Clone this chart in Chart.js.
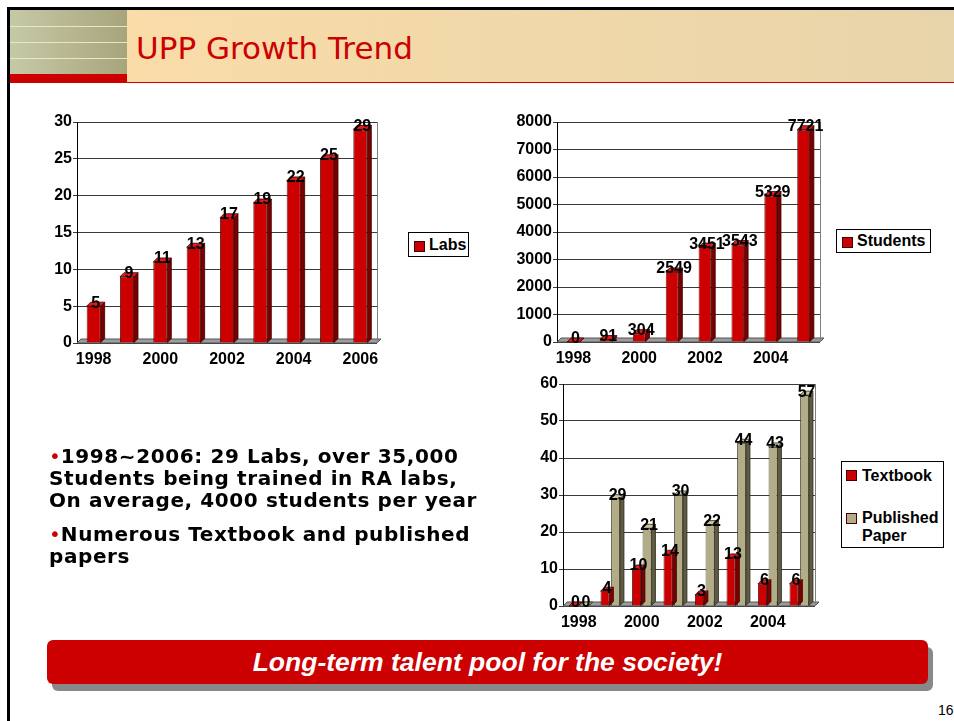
<!DOCTYPE html>
<html>
<head>
<meta charset="utf-8">
<title>UPP Growth Trend</title>
<script src="https://cdn.jsdelivr.net/npm/chart.js@4.4.1/dist/chart.umd.min.js"></script>
<style>
  body { margin: 0; width: 954px; height: 721px; background: #fff; position: relative; overflow: hidden; font-family: "Liberation Sans", Arial, sans-serif; }
  .frame-top { position: absolute; left: 7px; top: 7px; right: 0; height: 3px; background: #000; }
  .frame-left { position: absolute; left: 7px; top: 7px; width: 3px; bottom: 0; background: #000; }
  .band-left { position: absolute; left: 10px; top: 10px; width: 117px; height: 64px; background: linear-gradient(to right, #c6c9a7, #a8a57d); }
  .band-left i { position: absolute; left: 0; right: 0; height: 1px; background: #e9e6c3; }
  .band-red { position: absolute; left: 10px; top: 74px; width: 117px; height: 9px; background: #cc0000; }
  .band-right { position: absolute; left: 127px; top: 10px; right: 0; height: 72px; background: linear-gradient(to right, #f9dca8, #e8d4aa); border-bottom: 1px solid #cc0000; }
  h1 { position: absolute; left: 136px; top: 33px; margin: 0; font: 31px/31px "DejaVu Sans", Verdana, sans-serif; color: #cc0000; white-space: nowrap; }
  .box { position: absolute; }
  .legend { position: absolute; border: 1px solid #000; background: #fff; font: bold 16px/18px "Liberation Sans", Arial, sans-serif; color: #000; box-sizing: border-box; }
  .legend .item { position: absolute; white-space: nowrap; }
  .legend .sw { position: absolute; width: 11px; height: 11px; border: 1px solid #400; box-sizing: border-box; }
  .notes { position: absolute; left: 49px; top: 445px; width: 470px; font: bold 20px/22px "DejaVu Sans", Verdana, sans-serif; letter-spacing: 0.6px; color: #000; white-space: nowrap; }
  .notes p { margin: 0 0 12px 0; }
  .notes b { color: #cc0000; font-weight: normal; letter-spacing: 0; }
  .banner { position: absolute; left: 47px; top: 640px; width: 881px; height: 44px; background: #cc0000; border-radius: 6px; box-shadow: 5px 7px 0 #888; color: #fff; text-align: center; font: italic bold 26.5px/44px "Liberation Sans", Arial, sans-serif; }
  .page { position: absolute; left: 938px; top: 702px; font: 14px "Liberation Sans", Arial, sans-serif; color: #000; }
</style>
</head>
<body>
<div class="frame-top"></div>
<div class="frame-left"></div>
<div class="band-left"><i style="top:16px"></i><i style="top:32px"></i><i style="top:48px"></i></div>
<div class="band-red"></div>
<div class="band-right"></div>
<h1>UPP Growth Trend</h1>

<div class="box" style="left:40px;top:110px;width:350px;height:262px"><canvas id="labs-chart"></canvas></div>
<div class="box" style="left:510px;top:110px;width:315px;height:262px"><canvas id="students-chart"></canvas></div>
<div class="box" style="left:510px;top:370px;width:310px;height:262px"><canvas id="pubs-chart"></canvas></div>

<div class="legend" id="labs-legend" style="left:408px;top:232px;width:61px;height:25px"></div>
<div class="legend" id="students-legend" style="left:836px;top:229px;width:95px;height:24px"></div>
<div class="legend" id="pubs-legend" style="left:841px;top:461px;width:103px;height:87px"></div>

<div class="notes">
  <p><b>&bull;</b>1998~2006: 29 Labs, over 35,000<br>Students being trained in RA labs,<br>On average, 4000 students per year</p>
  <p><b>&bull;</b>Numerous Textbook and published<br>papers</p>
</div>

<div class="banner">Long-term talent pool for the society!</div>
<div class="page">16</div>

<script>
// data
const labYears = ["1998", "1999", "2000", "2001", "2002", "2003", "2004", "2005", "2006"];
const labCounts = [5, 9, 11, 13, 17, 19, 22, 25, 29];

const studentYears = ["1998", "1999", "2000", "2001", "2002", "2003", "2004", "2005"];
const studentCounts = [0, 91, 304, 2549, 3451, 3543, 5329, 7721];

const pubYears = ["1998", "1999", "2000", "2001", "2002", "2003", "2004", "2005"];
const textbookCounts = [0, 4, 10, 14, 3, 13, 6, 6];
const paperCounts = [0, 29, 21, 30, 22, 44, 43, 57];

const labTicks = [0, 30, 5];        // min, max, step
const studentTicks = [0, 8000, 1000];
const pubTicks = [0, 60, 10];

const RED = { front: "#cc0000", side: "#7a0000", top: "#e21a1a", edge: "#3a0000" };
const KHAKI = { front: "#b3ad87", side: "#5e5b42", top: "#cbc5a0", edge: "#2e2c1e" };
const DEPTH = 4;

// fake 3D look: floor, right wall, side and top faces, value labels
const bar3d = {
    id: "bar3d",
    beforeDatasetsDraw(chart) {
        const { ctx, chartArea: a } = chart;
        ctx.save();
        ctx.fillStyle = "#9c9c9c";
        ctx.strokeStyle = "#555";
        ctx.lineWidth = 1;
        ctx.beginPath();
        ctx.moveTo(a.left, a.bottom);
        ctx.lineTo(a.right, a.bottom);
        ctx.lineTo(a.right + DEPTH, a.bottom - DEPTH);
        ctx.lineTo(a.left + DEPTH, a.bottom - DEPTH);
        ctx.closePath();
        ctx.fill();
        ctx.stroke();
        ctx.strokeStyle = "#808080";
        ctx.beginPath();
        ctx.moveTo(a.right + 0.5, a.top);
        ctx.lineTo(a.right + 0.5, a.bottom);
        ctx.stroke();
        ctx.restore();
    },
    afterDatasetsDraw(chart) {
        const ctx = chart.ctx;
        const poly = (pts) => {
            ctx.beginPath();
            ctx.moveTo(pts[0][0], pts[0][1]);
            pts.slice(1).forEach(p => ctx.lineTo(p[0], p[1]));
            ctx.closePath();
            ctx.fill();
            ctx.stroke();
        };
        ctx.save();
        ctx.lineWidth = 0.8;
        chart.data.datasets.forEach((ds, i) => {
            const c = ds.faces;
            chart.getDatasetMeta(i).data.forEach(bar => {
                const l = bar.x - bar.width / 2, r = bar.x + bar.width / 2;
                const t = bar.y, b = bar.base;
                ctx.strokeStyle = c.edge;
                ctx.fillStyle = c.side;
                poly([[r, t], [r + DEPTH, t - DEPTH], [r + DEPTH, b - DEPTH], [r, b]]);
                ctx.fillStyle = c.top;
                poly([[l, t], [l + DEPTH, t - DEPTH], [r + DEPTH, t - DEPTH], [r, t]]);
            });
        });
        ctx.fillStyle = "#000";
        ctx.font = "bold 16px 'Liberation Sans', Arial, sans-serif";
        ctx.textAlign = "center";
        ctx.textBaseline = "middle";
        chart.data.datasets.forEach((ds, i) => {
            chart.getDatasetMeta(i).data.forEach((bar, j) => {
                ctx.fillText(String(ds.data[j]), bar.x + DEPTH / 2, bar.y - 3);
            });
        });
        ctx.restore();
    }
};

function makeChart(id, labels, datasets, ticks, yWidth, xHeight, pad, catPct, barPct) {
    return new Chart(document.getElementById(id), {
        type: "bar",
        data: {
            labels: labels,
            datasets: datasets.map(d => ({
                label: d.label,
                data: d.data,
                faces: d.faces,
                backgroundColor: d.faces.front,
                borderColor: d.faces.edge,
                borderWidth: 0.8,
                categoryPercentage: catPct,
                barPercentage: barPct
            }))
        },
        options: {
            responsive: true,
            maintainAspectRatio: false,
            animation: false,
            layout: { padding: pad },
            plugins: { legend: { display: false }, tooltip: { enabled: false } },
            scales: {
                x: {
                    grid: { display: false, drawTicks: false },
                    border: { display: false },
                    afterFit(scale) { scale.height = xHeight; },
                    ticks: {
                        autoSkip: false,
                        maxRotation: 0,
                        padding: 7,
                        color: "#000",
                        font: { family: "'Liberation Sans', Arial, sans-serif", size: 16, weight: "bold" },
                        callback(v, i) { return i % 2 === 0 ? this.getLabelForValue(v) : ""; }
                    }
                },
                y: {
                    min: ticks[0],
                    max: ticks[1],
                    grid: { color: "#3a3a3a", tickLength: 4 },
                    border: { color: "#000", width: 1 },
                    afterFit(scale) { scale.width = yWidth; },
                    ticks: {
                        stepSize: ticks[2],
                        padding: 1,
                        color: "#000",
                        font: { family: "'Liberation Sans', Arial, sans-serif", size: 16, weight: "bold" },
                        callback: v => String(v)
                    }
                }
            }
        },
        plugins: [bar3d]
    });
}

function makeLegend(id, items) {
    const box = document.getElementById(id);
    items.forEach(it => {
        const sw = document.createElement("div");
        sw.className = "sw";
        sw.style.left = it.sx + "px";
        sw.style.top = it.sy + "px";
        sw.style.background = it.color;
        box.appendChild(sw);
        const tx = document.createElement("div");
        tx.className = "item";
        tx.style.left = it.tx + "px";
        tx.style.top = it.ty + "px";
        tx.innerHTML = it.text;
        box.appendChild(tx);
    });
}

makeChart("labs-chart", labYears,
    [{ label: "Labs", data: labCounts, faces: RED }],
    labTicks, 37, 29, { top: 12, right: 13 }, 0.84, 0.5);

makeChart("students-chart", studentYears,
    [{ label: "Students", data: studentCounts, faces: RED }],
    studentTicks, 47, 30, { top: 12, right: 5 }, 0.8, 0.48);

makeChart("pubs-chart", pubYears,
    [
        { label: "Textbook", data: textbookCounts, faces: RED },
        { label: "Published Paper", data: paperCounts, faces: KHAKI }
    ],
    pubTicks, 53, 26, { top: 14, right: 5 }, 0.67, 0.84);

makeLegend("labs-legend", [{ text: "Labs", color: RED.front, sx: 5, sy: 8, tx: 20, ty: 3 }]);
makeLegend("students-legend", [{ text: "Students", color: RED.front, sx: 5, sy: 7, tx: 20, ty: 2 }]);
makeLegend("pubs-legend", [
    { text: "Textbook", color: RED.front, sx: 4, sy: 8, tx: 20, ty: 5 },
    { text: "Published<br>Paper", color: KHAKI.front, sx: 4, sy: 51, tx: 20, ty: 47 }
]);
</script>
</body>
</html>
